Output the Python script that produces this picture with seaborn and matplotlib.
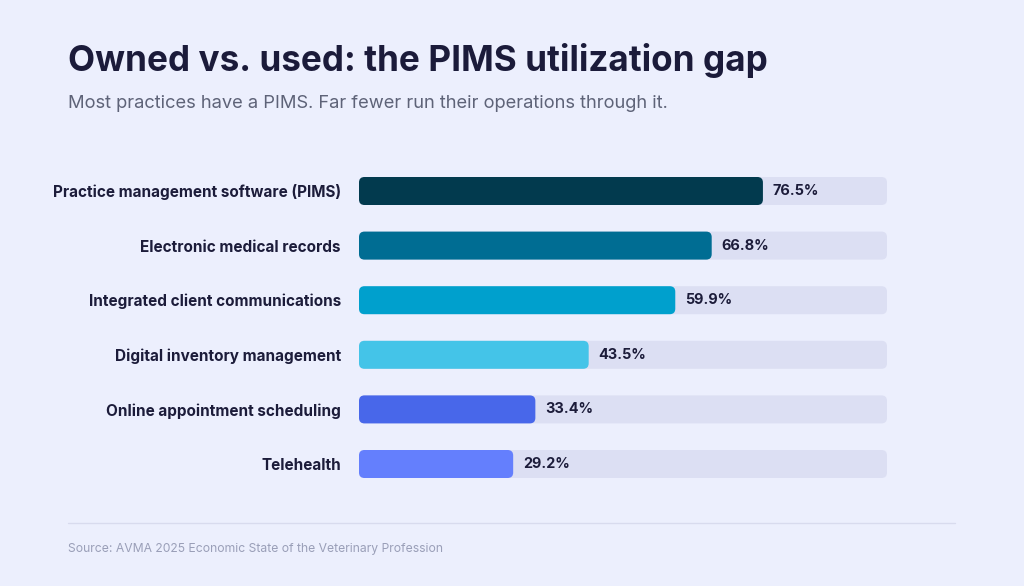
import matplotlib
matplotlib.use("Agg")
import matplotlib.pyplot as plt
from matplotlib.patches import FancyBboxPatch
import seaborn as sns
import pandas as pd

categories = [
    "Practice management software (PIMS)",
    "Electronic medical records",
    "Integrated client communications",
    "Digital inventory management",
    "Online appointment scheduling",
    "Telehealth",
]
values = [76.5, 66.8, 59.9, 43.5, 33.4, 29.2]
track = [100] * len(categories)
bar_colors = ["#023A4E", "#006D93", "#00A0CD", "#44C4E8", "#4867EA", "#647FFD"]

BG = "#ECEFFD"
TRACK = "#DCDFF3"
DARK = "#1C1C3A"

sns.set_theme(style="white")
plt.rcParams["font.family"] = ["Inter", "DejaVu Sans"]

df = pd.DataFrame({"category": categories, "value": values, "track": track})

fig = plt.figure(figsize=(10.24, 5.86), dpi=100, facecolor=BG)
ax = fig.add_axes([359 / 1024, 1 - 491.3 / 586, 528 / 1024, 327.6 / 586])
ax.set_facecolor(BG)

bh = 28 / 54.6
sns.barplot(data=df, x="track", y="category", color=TRACK, width=bh, ax=ax,
            saturation=1, orient="h")
sns.barplot(data=df, x="value", y="category", hue="category", palette=bar_colors,
            width=bh, ax=ax, saturation=1, legend=False, orient="h", dodge=False)

ax.set_xlim(0, 100)
ax.set_ylim(5.5, -0.5)

# round the corners of every bar
aspect = (1 / 54.6) / (1 / 5.28)
rad = 5.5 / 5.28
patches = list(ax.patches)
for p in patches:
    x, y = p.get_x(), p.get_y()
    w, h = p.get_width(), p.get_height()
    fc = p.get_facecolor()
    z = p.get_zorder()
    p.remove()
    ax.add_patch(FancyBboxPatch((x, y), w, h,
                                boxstyle=f"round,pad=0,rounding_size={rad}",
                                mutation_aspect=aspect, facecolor=fc,
                                edgecolor="none", zorder=z))

for i, v in enumerate(values):
    ax.text(v + 10 / 5.28, i, f"{v:.1f}%", va="center", ha="left",
            fontsize=10.4, fontweight="bold", color=DARK)

ax.set_xlabel("")
ax.set_ylabel("")
ax.set_xticks([])
ax.tick_params(axis="y", length=0, pad=13)
for lab in ax.get_yticklabels():
    lab.set_fontweight("bold")
    lab.set_fontsize(11)
    lab.set_color(DARK)
for s in ax.spines.values():
    s.set_visible(False)

fig.text(68 / 1024, 1 - 61 / 586, "Owned vs. used: the PIMS utilization gap",
         fontsize=25.3, fontweight="bold", color="#1B1B3A", va="center", ha="left")
fig.text(68 / 1024, 1 - 104 / 586,
         "Most practices have a PIMS. Far fewer run their operations through it.",
         fontsize=13.2, color="#5E6378", va="center", ha="left")
fig.add_artist(plt.Line2D([68 / 1024, 955 / 1024], [1 - 523 / 586, 1 - 523 / 586],
                          color="#D8DBEE", linewidth=1))
fig.text(68 / 1024, 1 - 549 / 586,
         "Source: AVMA 2025 Economic State of the Veterinary Profession",
         fontsize=8.75, color="#9A9FB8", va="center", ha="left")

fig.savefig("out.png", dpi=100, facecolor=BG)
